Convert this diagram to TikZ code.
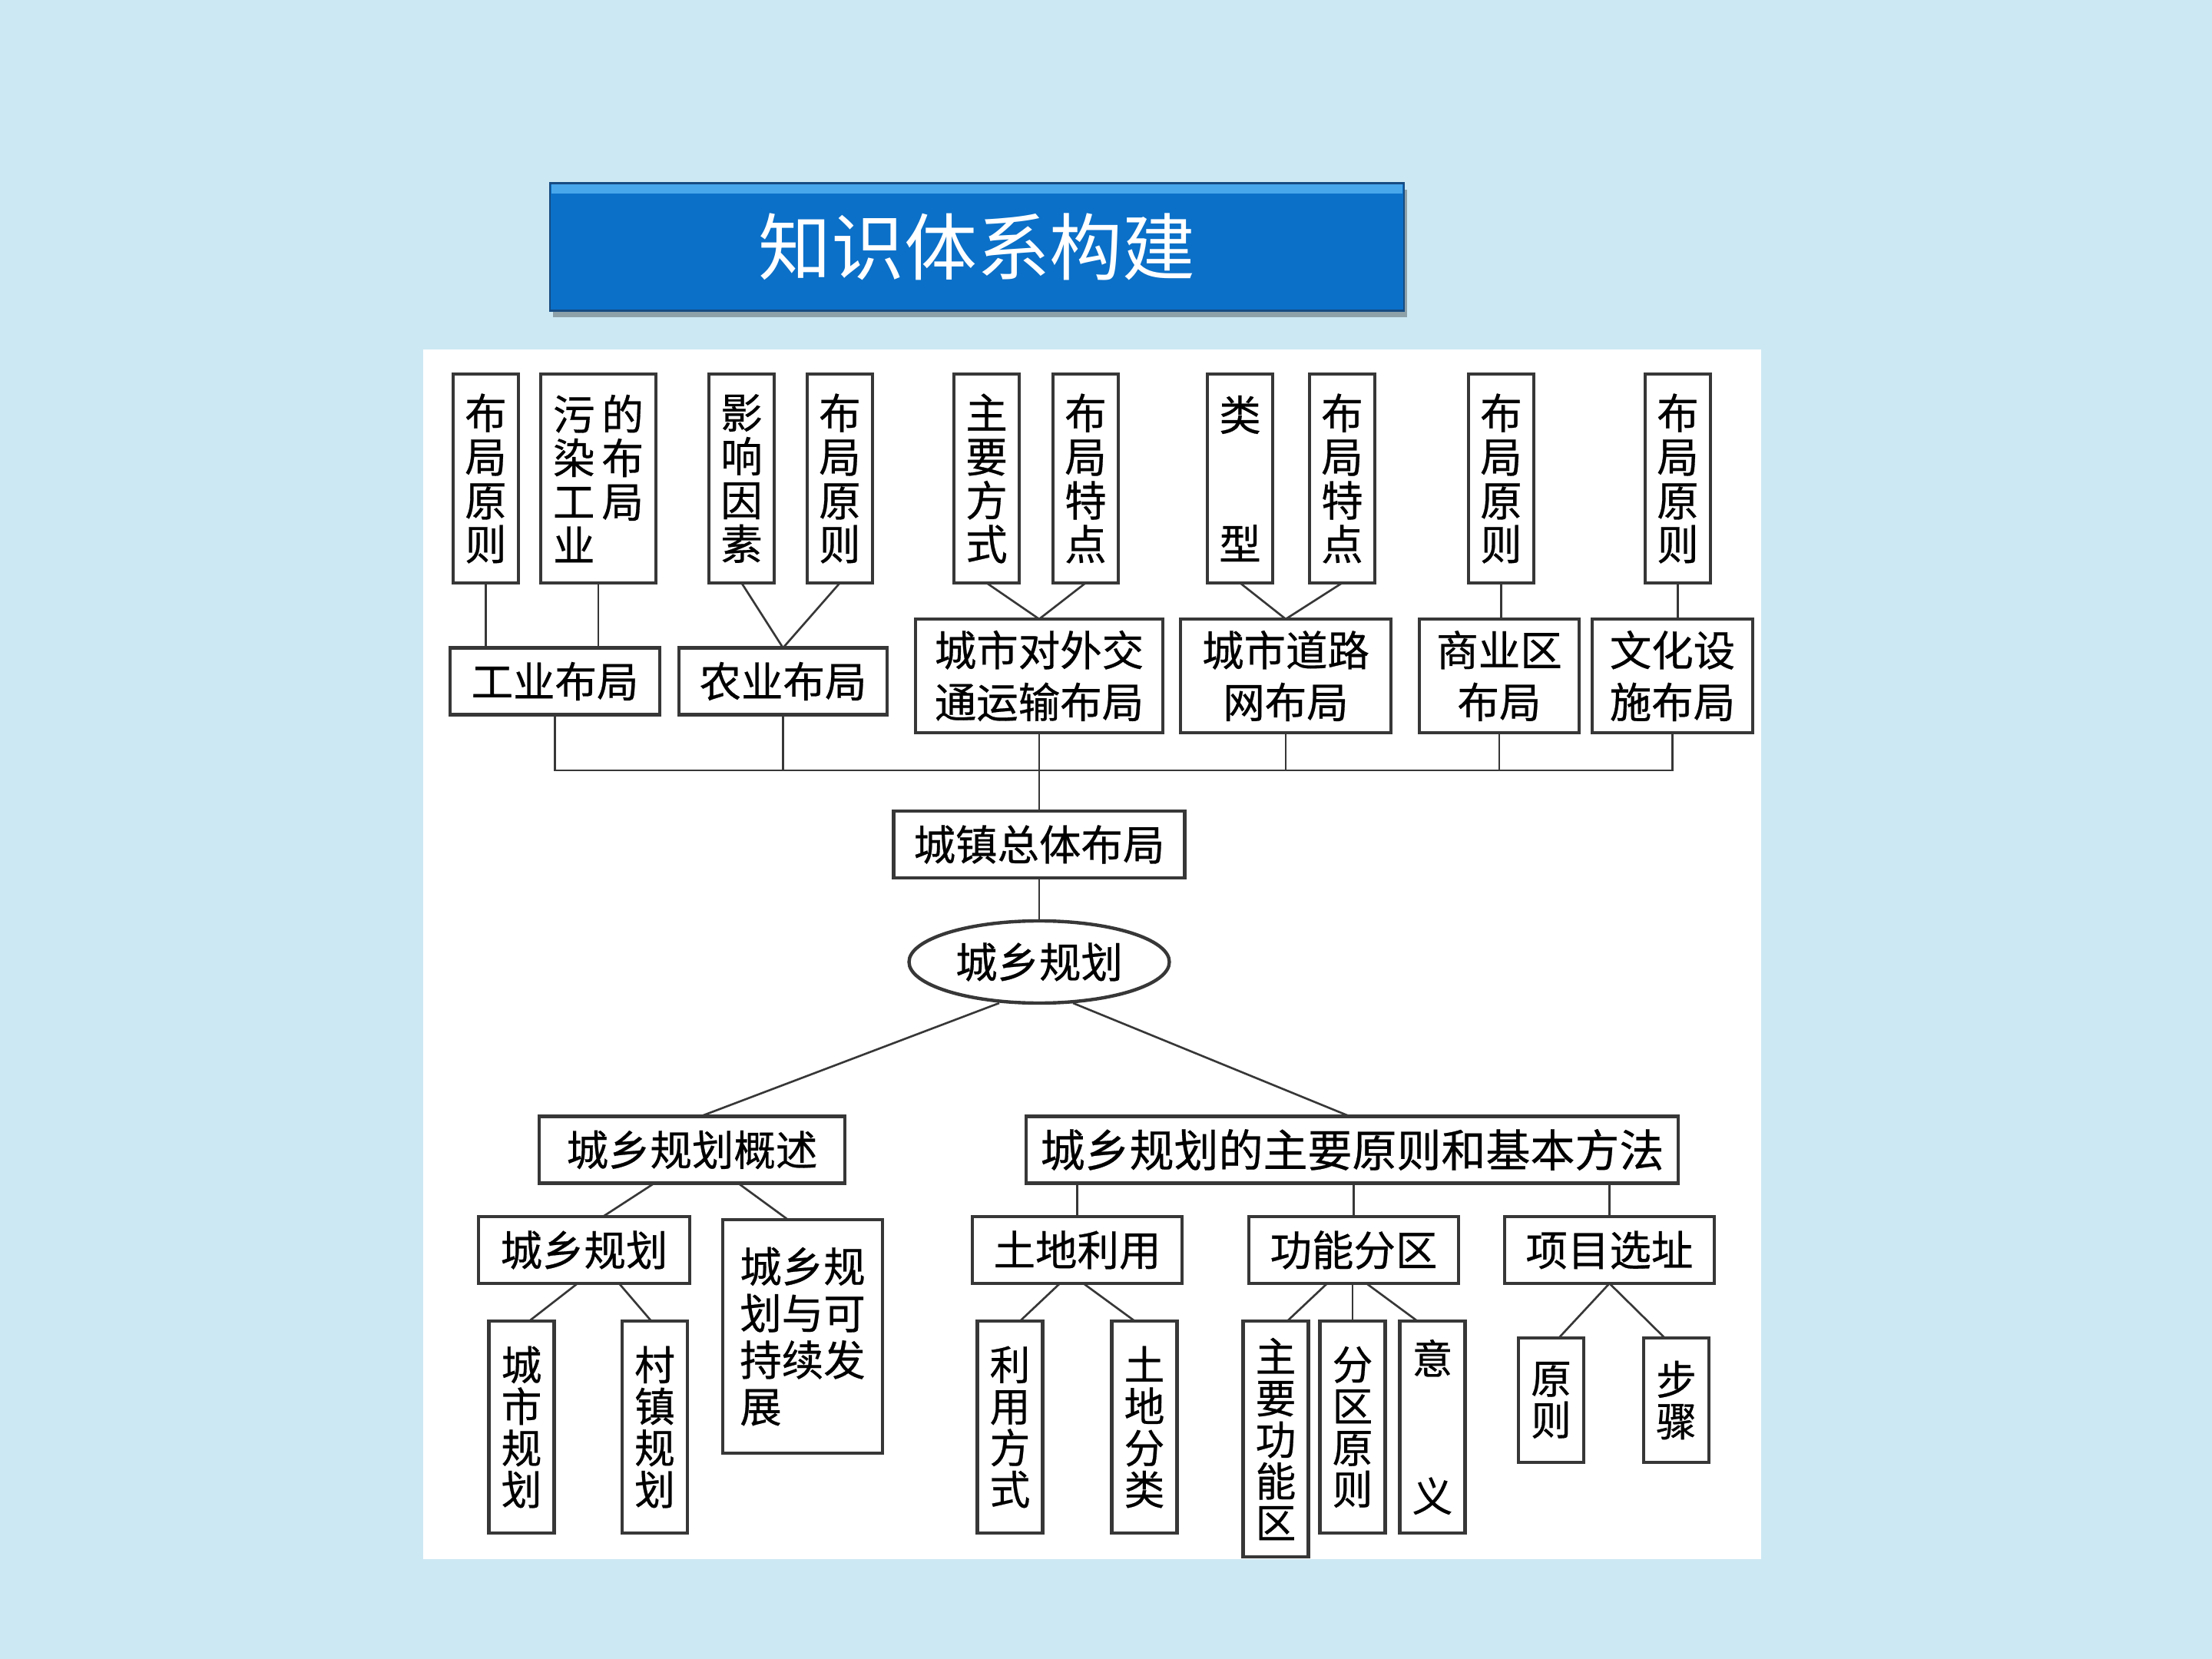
\documentclass[tikz,border=0pt]{standalone}
\usepackage{fontspec}
\newfontfamily\cjk{Noto Sans CJK SC}
\newfontfamily\cjkbox[FakeBold=0.5]{Noto Sans CJK SC}
\usepackage{xcolor}
\usetikzlibrary{positioning, calc, shapes.geometric, shadows}

\definecolor{bgblue}{RGB}{204,232,243}
\definecolor{titleblue}{RGB}{11,112,200}
\definecolor{titlelight}{RGB}{72,166,235}
\definecolor{titleedge}{RGB}{22,76,130}
\definecolor{boxline}{RGB}{55,55,55}

\begin{document}
\begin{tikzpicture}[
    blk/.style={draw=boxline, line width=1.25pt, fill=white, align=center,
        inner sep=0pt, outer sep=0pt,
        font=\cjkbox\fontsize{15.5}{16.2}\selectfont},
    hblk/.style={blk, minimum height=0.87cm},
    vblk/.style={blk, minimum width=0.85cm, minimum height=2.72cm},
    vlow/.style={blk, minimum width=0.85cm, minimum height=2.76cm,
        font=\cjkbox\fontsize{15}{15.4}\selectfont},
    conn/.style={draw=boxline, line width=0.75pt},
    titlebox/.style={fill=titleblue, draw=titleedge, line width=0.6pt,
        minimum width=11.12cm, minimum height=1.66cm, inner sep=0pt,
        text=white, font=\cjk\fontsize{27}{30}\selectfont,
        drop shadow={shadow xshift=0.04cm, shadow yshift=-0.09cm,
            fill=black, opacity=0.3}},
]

% ---- page and panel ----
\useasboundingbox (0,0) rectangle (28.8,-21.6);
\fill[bgblue] (0,0) rectangle (28.8,-21.6);
\fill[white] (5.51,-4.55) rectangle (22.93,-20.30);

% ---- title ----
\node[titlebox] (title) at (12.72,-3.215) {知识体系构建};
\fill[titlelight] ([shift={(0.03,-0.03)}]title.north west)
    rectangle ([shift={(-0.03,-0.15)}]title.north east);

% ---- top row: vertical boxes ----
\node[vblk] (gyA) at (6.325,-6.23) {布\\局\\原\\则};
\node[vblk, right=0.29 of gyA, minimum width=1.5cm, align=left] (gyB)
    {污\hspace{0.09cm}的\\染\hspace{0.09cm}布\\工\hspace{0.09cm}局\\业};
\node[vblk, right=0.69 of gyB] (nyA) {影\\响\\因\\素};
\node[vblk, right=0.43 of nyA] (nyB) {布\\局\\原\\则};
\node[vblk, right=1.06 of nyB] (jtA) {主\\要\\方\\式};
\node[vblk, right=0.44 of jtA] (jtB) {布\\局\\特\\点};
\node[vblk, right=1.16 of jtB] (dlA) {类\\[1.11cm]型};
\node[vblk, right=0.48 of dlA] (dlB) {布\\局\\特\\点};
\node[vblk, right=1.22 of dlB] (syA) {布\\局\\原\\则};
\node[vblk, right=1.45 of syA] (whA) {布\\局\\原\\则};

% ---- second row: layout topics ----
\node[hblk, minimum width=2.73cm] (gy) at (7.225,-8.87) {工业布局};
\node[hblk, right=0.25 of gy, minimum width=2.71cm] (ny) {农业布局};
\node[hblk, minimum width=3.22cm, minimum height=1.48cm] (jt)
    at (13.53,-8.80) {城市对外交\\[3pt]通运输布局};
\node[hblk, right=0.23 of jt, minimum width=2.74cm, minimum height=1.48cm] (dl)
    {城市道路\\[3pt]网布局};
\node[hblk, right=0.37 of dl, minimum width=2.08cm, minimum height=1.48cm] (sy)
    {商业区\\[3pt]布局};
\node[hblk, right=0.17 of sy, minimum width=2.09cm, minimum height=1.48cm] (wh)
    {文化设\\[3pt]施布局};

% top row -> second row
\draw[conn] (gyA.south) -- (gyA.south |- gy.north);
\draw[conn] (gyB.south) -- (gyB.south |- gy.north);
\draw[conn] (nyA.south) -- (ny.north);
\draw[conn] (nyB.south) -- (ny.north);
\draw[conn] (jtA.south) -- (jt.north);
\draw[conn] (jtB.south) -- (jt.north);
\draw[conn] (dlA.south) -- (dl.north);
\draw[conn] (dlB.south) -- (dl.north);
\draw[conn] (syA.south) -- (syA.south |- sy.north);
\draw[conn] (whA.south) -- (whA.south |- wh.north);

% collecting line
\coordinate (bus) at (0,-10.03);
\draw[conn] (gy.south) -- (gy.south |- bus) -- (wh.south |- bus) -- (wh.south);
\draw[conn] (ny.south) -- (ny.south |- bus);
\draw[conn] (dl.south) -- (dl.south |- bus);
\draw[conn] (sy.south) -- (sy.south |- bus);

% ---- centre: overall layout and root ----
\node[hblk, below=1.02 of jt, minimum width=3.79cm] (zt) {城镇总体布局};
\draw[conn] (jt.south) -- (zt.north);
\node[blk, ellipse, below=0.56 of zt, minimum width=3.39cm,
    minimum height=1.07cm] (ov) {城乡规划};
\draw[conn] (zt.south) -- (ov.north);

% ---- third row ----
\node[hblk, minimum width=3.98cm] (gs) at (9.01,-14.97) {城乡规划概述};
\node[hblk, minimum width=8.49cm, font=\cjkbox\fontsize{16.5}{17}\selectfont] (ff)
    at (17.605,-14.97) {城乡规划的主要原则和基本方法};
\draw[conn] ([xshift=-0.52cm]ov.south) -- ([xshift=0.11cm]gs.north);
\draw[conn] ([xshift=0.44cm]ov.south) -- ([xshift=-0.03cm]ff.north);

% ---- left branch ----
\node[hblk, minimum width=2.75cm] (cx) at (7.605,-16.275) {城乡规划};
\node[blk, minimum width=2.08cm, minimum height=3.04cm, align=left,
    font=\cjkbox\fontsize{15.5}{17.3}\selectfont] (kc)
    at (10.45,-17.40) {城乡规\\划与可\\持续发\\展};
\draw[conn] ([xshift=-0.49cm]gs.south) -- ([xshift=0.245cm]cx.north);
\draw[conn] ([xshift=0.60cm]gs.south) -- ([xshift=-0.19cm]kc.north);

\node[vlow] (cs) at (6.79,-18.58) {城\\市\\规\\划};
\node[vlow] (cz) at (8.525,-18.58) {村\\镇\\规\\划};
\draw[conn] ([xshift=-0.085cm]cx.south) -- ([xshift=0.10cm]cs.north);
\draw[conn] ([xshift=0.455cm]cx.south) -- ([xshift=-0.045cm]cz.north);

% ---- right branch ----
\node[hblk, minimum width=2.73cm] (td) at (14.025,-16.275) {土地利用};
\node[hblk, right=0.87 of td, minimum width=2.73cm] (gn) {功能分区};
\node[hblk, right=0.60 of gn, minimum width=2.73cm] (xm) {项目选址};
\draw[conn] (td.north |- ff.south) -- (td.north);
\draw[conn] (gn.north |- ff.south) -- (gn.north);
\draw[conn] (xm.north |- ff.south) -- (xm.north);

\node[vlow] (ly) at (13.15,-18.58) {利\\用\\方\\式};
\node[vlow, right=0.90 of ly] (fl) {土\\地\\分\\类};
\node[vlow, minimum height=3.07cm] (zy) at (16.61,-18.735) {主\\要\\功\\能\\区};
\node[vlow] (fq) at (17.61,-18.58) {分\\区\\原\\则};
\node[vlow, right=0.19 of fq] (yy) {意\\[1.25cm]义};
\node[vlow, minimum height=1.62cm] (yz) at (20.195,-18.23) {原\\则};
\node[vlow, minimum height=1.62cm, right=0.78 of yz] (bz) {步\\骤};

\draw[conn] ([xshift=-0.225cm]td.south) -- ([xshift=0.13cm]ly.north);
\draw[conn] ([xshift=0.08cm]td.south) -- ([xshift=-0.125cm]fl.north);
\draw[conn] ([xshift=-0.345cm]gn.south) -- ([xshift=0.15cm]zy.north);
\draw[conn] (fq.north |- gn.south) -- (fq.north);
\draw[conn] ([xshift=0.165cm]gn.south) -- ([xshift=-0.195cm]yy.north);
\draw[conn] (xm.south) -- ([xshift=0.1cm]yz.north);
\draw[conn] (xm.south) -- ([xshift=-0.15cm]bz.north);

\end{tikzpicture}
\end{document}
